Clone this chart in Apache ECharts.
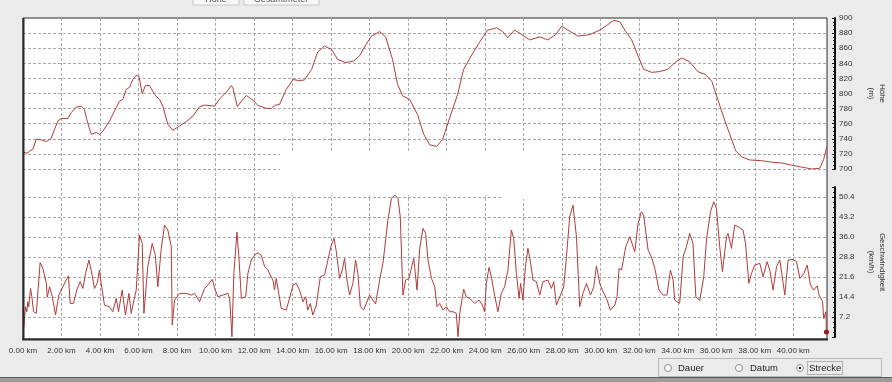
<!DOCTYPE html>
<html>
<head>
<meta charset="utf-8">
<script src="https://cdn.jsdelivr.net/npm/echarts@6/dist/echarts.min.js"></script>
<style>
html,body{margin:0;padding:0;background:#ebebeb;}
#c{width:892px;height:382px;}
</style>
</head>
<body>
<div id="c"></div>
<script>
// Elevation profile (distance km, elevation m)
var elevKm = [0,0.25,0.34,0.51,0.69,0.77,0.95,1.21,1.46,1.64,1.81,1.98,2.33,2.50,2.76,3.02,3.19,3.31,3.54,3.81,3.97,4.15,4.49,4.75,5.01,5.18,5.36,5.53,5.70,5.88,6.02,6.19,6.36,6.57,6.83,7.09,7.26,7.52,7.78,8.13,8.48,8.82,9.17,9.43,9.95,10.21,10.56,10.82,10.90,11.13,11.34,11.60,11.94,12.20,12.63,12.89,13.06,13.32,13.67,14.02,14.36,14.62,14.99,15.30,15.66,16.03,16.34,16.75,17.17,17.48,17.79,18.10,18.52,18.83,19.19,19.45,19.71,20.08,20.49,20.81,21.12,21.48,21.79,22.16,22.57,22.88,23.30,23.71,24.13,24.60,24.91,25.17,25.53,25.90,26.31,26.83,27.25,27.66,27.97,28.29,28.81,29.43,29.95,30.36,30.67,30.99,31.30,31.61,31.92,32.23,32.65,33.06,33.48,33.90,34.21,34.62,35.04,35.45,35.77,36.08,36.39,36.70,37.01,37.32,37.74,38.36,38.88,39.40,39.92,40.34,40.96,41.38,41.58,41.74];
var elevM = [722,721,724,726,739.5,741.7,738.6,736.4,740.4,752.6,763.6,767,767,774.6,782,783.3,779,765.8,746,748.3,746,750.4,763.6,776.7,789.9,792,805.3,808.3,818.4,824,822.8,800,810.5,810.5,798.7,792,783.3,759.2,751.3,757,762.8,770.1,782.5,784.6,783.3,793,801.7,810.5,807.5,782.5,789.9,797.4,791.2,784.2,780.3,780.3,784.2,785.5,805.3,818.4,817.1,818,832,855,863,858,845,841,843,850,864,876,882,875,845,812,797,792,772,746,732,730,739,768,799,832,851,868,884,887,882,874,884,878,871,875,871,878,889,884,876,878,884,891,897,895,882,871,851,832,828,829,832,842,847,842,829,825,816,792,768,746,724,716,712,711,709,708,705,703,700,701,713,729];

// Speed profile (distance km, km/h)
var speedKm = [0,0.04,0.13,0.20,0.25,0.30,0.39,0.46,0.55,0.69,0.89,1.03,1.21,1.26,1.38,1.52,1.69,1.86,2.07,2.24,2.36,2.45,2.62,2.79,2.97,3.11,3.25,3.42,3.54,3.71,3.85,3.97,4.06,4.23,4.49,4.66,4.84,4.96,5.15,5.32,5.50,5.62,5.76,5.88,6.05,6.19,6.28,6.48,6.71,6.87,7.00,7.18,7.35,7.52,7.70,7.75,7.87,8.13,8.48,8.74,8.91,9.17,9.43,9.60,9.83,9.95,10.12,10.38,10.64,10.73,10.85,10.95,11.11,11.21,11.34,11.56,11.68,11.85,12.03,12.20,12.37,12.55,12.72,12.84,12.98,13.06,13.15,13.41,13.67,13.84,14.02,14.19,14.36,14.54,14.68,14.79,14.92,15.05,15.23,15.44,15.66,15.83,16.01,16.15,16.27,16.44,16.58,16.70,16.82,16.96,17.13,17.27,17.39,17.52,17.69,18.00,18.17,18.31,18.52,18.69,18.95,19.13,19.30,19.47,19.59,19.73,19.87,20.04,20.29,20.46,20.60,20.77,20.91,21.03,21.21,21.38,21.50,21.64,21.81,21.98,22.16,22.33,22.50,22.59,22.68,22.88,23.02,23.19,23.45,23.68,23.85,23.97,24.06,24.20,24.32,24.44,24.66,24.84,25.01,25.18,25.36,25.48,25.62,25.76,25.84,25.96,26.09,26.22,26.35,26.48,26.66,26.83,27.00,27.26,27.44,27.56,27.70,27.91,28.08,28.22,28.39,28.56,28.74,28.91,29.08,29.26,29.47,29.64,29.78,29.95,30.12,30.30,30.50,30.73,30.85,30.95,31.08,31.30,31.51,31.77,31.94,32.11,32.23,32.46,32.63,32.81,33.03,33.24,33.44,33.62,33.76,33.84,33.96,34.10,34.28,34.45,34.62,34.79,34.94,35.14,35.35,35.49,35.70,35.87,36.01,36.18,36.32,36.53,36.61,36.79,36.96,37.13,37.39,37.52,37.69,37.83,38.00,38.26,38.43,38.64,38.78,38.95,39.13,39.30,39.56,39.73,39.99,40.17,40.34,40.55,40.72,40.89,41.06,41.24,41.34,41.52,41.58,41.69,41.72];
var speedKmh = [10.3,3.7,10.9,9.1,12.7,10.9,17.5,14.5,9.1,8.5,26.8,24.7,19.3,14.3,18.1,14.5,7.9,15.1,18.1,20.5,22.0,12.1,12.1,16.9,19.9,17.5,22.9,27.7,24.1,17.5,19.3,24.1,19.3,11.5,10.9,9.1,13.9,9.1,16.9,7.9,15.7,8.5,13.3,16.9,36.7,33.7,8.5,25.3,33.7,29.5,18.1,31.9,40.3,38.5,32.5,4.3,13.3,15.7,15.7,15.1,15.7,12.7,17.5,18.7,20.8,17.5,14.5,15.1,15.7,13.9,0.1,22.9,37.7,28.9,13.9,14.5,22.9,27.7,29.5,30.3,29.5,25.3,24.1,22.3,20.5,16.9,21.1,10.3,9.7,13.9,18.7,19.3,16.9,12.7,14.5,9.7,12.1,7.9,11.5,21.7,22.3,27.7,33.1,35.5,30.7,21.1,24.1,28.3,20.5,15.1,19.3,27.7,22.9,10.9,9.7,15.1,13.3,11.9,20.5,26.5,42.1,49.9,51.1,49.9,43.3,15.1,20.5,21.1,28.3,16.9,31.9,39.1,37.3,27.7,21.1,18.1,10.9,12.1,9.7,10.9,9.1,9.1,8.5,0.1,8.5,17.2,14.5,13.9,12.1,13.3,11.5,9.1,19.3,25.1,21.7,16.9,9.1,15.7,18.1,24.1,38.5,35.5,22.9,13.9,19.3,13.3,25.3,31.9,27.1,20.5,19.9,15.1,19.9,20.5,17.5,19.9,11.5,15.1,18.1,28.9,43.3,47.5,36.1,10.9,15.7,19.3,15.1,18.1,25.6,19.3,16.3,13.9,9.7,11.5,14.5,24.7,24.1,32.5,36.1,30.7,40.9,45.1,43.9,31.3,28.9,24.7,16.9,15.1,15.1,24.1,20.5,13.3,12.7,12.1,28.9,32.5,37.3,33.7,14.5,13.1,21.7,34.9,45.1,48.7,46.3,32.5,23.5,36.1,37.3,31.9,40.3,39.7,38.5,33.7,19.3,22.9,25.9,26.5,21.7,27.1,24.1,16.9,25.3,27.7,15.1,27.7,27.9,27.1,21.1,22.9,25.9,18.7,16.9,18.4,15.1,12.7,6.7,9.1,1.8];

// Axis settings
var xMin = 0, xMax = 41.75, xStep = 2;
var elevMin = 700, elevMax = 900, elevStep = 20;
var speedMin = 0, speedMax = 54, speedStep = 7.2;

var FONT = '"Liberation Sans", Arial, sans-serif';
var LINE = '#b23a3a';
var GRIDC = '#a8a8a8';

// plot frame and the gap between frame and the value axes
var PLOT_L = 23, PLOT_W = 804, AXIS_GAP = 8;
var dataXMax = xMax * (PLOT_W + AXIS_GAP) / PLOT_W; // same km scale, axis line sits AXIS_GAP px right of the frame

var elevData = elevKm.map(function (k, i) { return [k, elevM[i]]; });
var speedData = speedKm.map(function (k, i) {
  if (i === speedKm.length - 1) {
    return { value: [k, speedKmh[i]], symbol: 'circle', symbolSize: 5, itemStyle: { color: '#a01818' } };
  }
  return [k, speedKmh[i]];
});

var chart = echarts.init(document.getElementById('c'), null, { renderer: 'canvas' });

function hiddenX(gi) {
  return { type: 'value', gridIndex: gi, min: xMin, max: dataXMax, show: false };
}
function rightAxisBase() {
  return {
    axisLine: { show: true, onZero: false, lineStyle: { color: '#111', width: 2 } },
    axisTick: { show: true, inside: true, length: 3, lineStyle: { color: '#111' } },
    minorTick: { show: true, splitNumber: 4, length: 2, lineStyle: { color: '#111' } },
    splitLine: { show: false }
  };
}

var elevAxis = Object.assign(rightAxisBase(), {
  type: 'value', gridIndex: 1, position: 'right',
  min: elevMin, max: elevMax, interval: elevStep,
  name: 'Höhe\n(m)', nameLocation: 'middle', nameRotate: -90, nameGap: 31,
  nameTextStyle: { fontSize: 8, color: '#333', fontFamily: FONT, lineHeight: 11 },
  axisLabel: { margin: 4, fontSize: 8, color: '#333', fontFamily: FONT }
});
var speedAxis = Object.assign(rightAxisBase(), {
  type: 'value', gridIndex: 2, position: 'right',
  min: speedMin, max: speedMax, interval: speedStep,
  name: 'Geschwindigkeit\n(km/h)', nameLocation: 'middle', nameRotate: -90, nameGap: 31,
  nameTextStyle: { fontSize: 8, color: '#333', fontFamily: FONT, lineHeight: 11 },
  axisLabel: {
    margin: 4, fontSize: 8, color: '#333', fontFamily: FONT,
    formatter: function (v) {
      var r = Math.round(v * 10) / 10;
      if (r <= 0) return '';
      if (Math.abs(r / speedStep - Math.round(r / speedStep)) > 1e-6) return '';
      return r.toFixed(1);
    }
  }
});
// horizontal dashed grid lines live on hidden twin axes inside the frame
function gridLineAxis(gi, mn, mx, step, showMin) {
  return {
    type: 'value', gridIndex: gi, min: mn, max: mx, interval: step, position: 'left',
    axisLine: { show: false }, axisTick: { show: false }, axisLabel: { show: false },
    splitLine: { show: true, showMaxLine: false, showMinLine: showMin, lineStyle: { color: GRIDC, width: 1, type: [3, 2] } }
  };
}
function mkGrid(top, width, height, extra) {
  return Object.assign({ left: PLOT_L, top: top, width: width, height: height, containLabel: false, outerBoundsMode: 'none' }, extra || {});
}

var option = {
  animation: false,
  backgroundColor: '#ebebeb',
  textStyle: { fontFamily: FONT },
  grid: [
    mkGrid(18, PLOT_W, 321, { show: true, backgroundColor: '#ffffff', borderColor: '#2a2a2a', borderWidth: 1, z: 0 }),
    mkGrid(18, PLOT_W + AXIS_GAP, 151),
    mkGrid(187, PLOT_W + AXIS_GAP, 150),
    mkGrid(18, PLOT_W, 151),
    mkGrid(187, PLOT_W, 150)
  ],
  xAxis: [
    {
      type: 'value', gridIndex: 0, min: xMin, max: xMax, interval: xStep,
      axisLine: { show: false }, axisTick: { show: false },
      axisLabel: {
        margin: 8, fontSize: 8, color: '#333', fontFamily: FONT,
        showMaxLabel: false,
        formatter: function (v) {
          if (Math.abs(v / xStep - Math.round(v / xStep)) > 1e-6) return '';
          return v.toFixed(2) + ' km';
        }
      },
      splitLine: { show: true, showMinLine: false, showMaxLine: false, lineStyle: { color: GRIDC, width: 1, type: [3, 2] } }
    },
    hiddenX(1),
    hiddenX(2),
    { type: 'value', gridIndex: 3, min: xMin, max: xMax, show: false },
    { type: 'value', gridIndex: 4, min: xMin, max: xMax, show: false }
  ],
  yAxis: [
    { type: 'value', gridIndex: 0, min: 0, max: 1, show: false },
    elevAxis,
    speedAxis,
    gridLineAxis(3, elevMin, elevMax, elevStep, true),
    gridLineAxis(4, speedMin, speedMax, speedStep, false)
  ],
  graphic: [
    // white patches inside the plot
    { type: 'rect', shape: { x: 280, y: 152, width: 282, height: 43 }, style: { fill: '#ffffff' }, z: 1, silent: true },
    { type: 'rect', shape: { x: 503, y: 194, width: 58, height: 5 }, style: { fill: '#ffffff' }, z: 1, silent: true },
    // heavier left and bottom frame edges
    { type: 'line', shape: { x1: 23.5, y1: 18, x2: 23.5, y2: 340 }, style: { stroke: '#2a2a2a', lineWidth: 2 }, z: 4 },
    { type: 'line', shape: { x1: 22, y1: 339.5, x2: 828, y2: 339.5 }, style: { stroke: '#2a2a2a', lineWidth: 2 }, z: 4 },
    // top tabs (partially visible)
    { type: 'rect', shape: { x: 193, y: -4, width: 46, height: 9 }, style: { fill: '#f7f7f7', stroke: '#c8c8c8', lineWidth: 1 }, z: 5 },
    { type: 'rect', shape: { x: 244, y: -4, width: 75, height: 9 }, style: { fill: '#f7f7f7', stroke: '#c8c8c8', lineWidth: 1 }, z: 5 },
    { type: 'text', x: 216, y: -5, style: { text: 'Höhe', fill: '#555', font: '9px ' + FONT, textAlign: 'center', textVerticalAlign: 'top' }, z: 6 },
    { type: 'text', x: 281, y: -5, style: { text: 'Gesamtmeter', fill: '#555', font: '9px ' + FONT, textAlign: 'center', textVerticalAlign: 'top' }, z: 6 },
    // bottom status strip
    { type: 'rect', shape: { x: 0, y: 377, width: 892, height: 5 }, style: { fill: '#9c9c9c' }, z: 5 },
    { type: 'line', shape: { x1: 0, y1: 377.5, x2: 892, y2: 377.5 }, style: { stroke: '#5a5a5a', lineWidth: 1 }, z: 6 },
    // radio panel
    { type: 'rect', shape: { x: 658.5, y: 358.5, width: 223, height: 18 }, style: { fill: '#ebebeb', stroke: '#b8b8b8', lineWidth: 1 }, z: 5 },
    { type: 'circle', shape: { cx: 668, cy: 368, r: 3.5 }, style: { fill: '#fff', stroke: '#8a8a8a', lineWidth: 1 }, z: 6 },
    { type: 'text', x: 678, y: 368, style: { text: 'Dauer', fill: '#222', font: '9.5px ' + FONT, textVerticalAlign: 'middle' }, z: 6 },
    { type: 'circle', shape: { cx: 739, cy: 368, r: 3.5 }, style: { fill: '#fff', stroke: '#8a8a8a', lineWidth: 1 }, z: 6 },
    { type: 'text', x: 750, y: 368, style: { text: 'Datum', fill: '#222', font: '9.5px ' + FONT, textVerticalAlign: 'middle' }, z: 6 },
    { type: 'circle', shape: { cx: 800, cy: 368, r: 3.5 }, style: { fill: '#fff', stroke: '#8a8a8a', lineWidth: 1 }, z: 6 },
    { type: 'circle', shape: { cx: 800, cy: 368, r: 1.3 }, style: { fill: '#222' }, z: 7 },
    { type: 'rect', shape: { x: 807.5, y: 361.5, width: 35, height: 13 }, style: { fill: 'none', stroke: '#777', lineWidth: 1, lineDash: [1, 1] }, z: 6 },
    { type: 'text', x: 809, y: 368, style: { text: 'Strecke', fill: '#222', font: '9.5px ' + FONT, textVerticalAlign: 'middle' }, z: 7 }
  ],
  series: [
    {
      type: 'line', name: 'Höhe', xAxisIndex: 1, yAxisIndex: 1,
      data: elevData, showSymbol: false, symbol: 'none',
      lineStyle: { color: LINE, width: 1 }, itemStyle: { color: LINE },
      z: 3, clip: true
    },
    {
      type: 'line', name: 'Geschwindigkeit', xAxisIndex: 2, yAxisIndex: 2,
      data: speedData, showSymbol: true, symbol: 'none',
      lineStyle: { color: LINE, width: 1 }, itemStyle: { color: LINE },
      z: 3, clip: false
    }
  ]
};
chart.setOption(option);
</script>
</body>
</html>
